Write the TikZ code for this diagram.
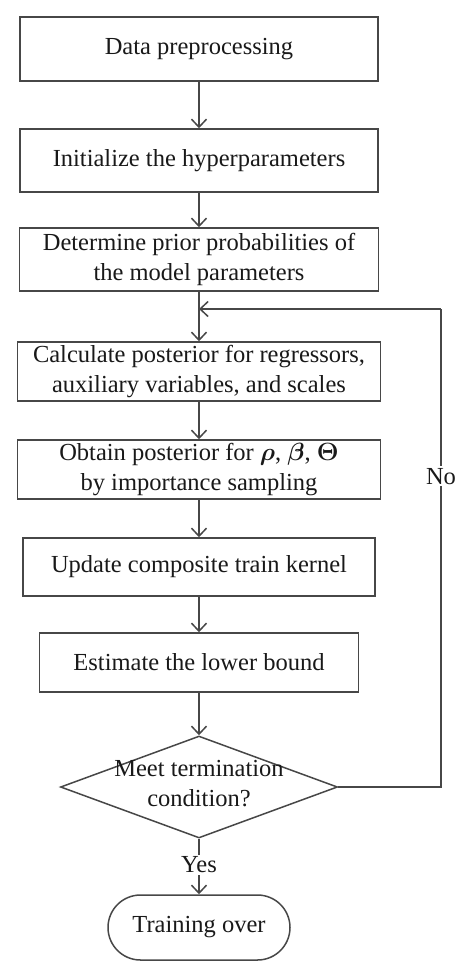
\documentclass[tikz,border=0pt]{standalone}
\usepackage{fontspec}
\setmainfont{Liberation Serif}
\usepackage{bm}
\usetikzlibrary{shapes.geometric,shapes.misc,arrows.meta}
\begin{document}
\begin{tikzpicture}[x=1pt,y=-1pt,
  every node/.style={font=\fontsize{24.5}{30}\selectfont, text=black!90, align=center},
  box/.style={draw=black!72, line width=1.5pt, rectangle, inner sep=0pt},
  dec/.style={draw=black!72, line width=1.5pt, diamond, inner sep=0pt},
  term/.style={draw=black!72, line width=1.5pt, rounded rectangle, inner sep=0pt},
  conn/.style={draw=black!72, line width=1.5pt, -{Straight Barb[length=8pt,width=15pt,line width=1.5pt]}},
  plain/.style={draw=black!72, line width=1.5pt},
  lbl/.style={fill=white, inner sep=2pt}
]
\useasboundingbox (0,0) rectangle (474,978);
\node[box, minimum width=358pt, minimum height=64pt] (b1) at (199,49) {Data preprocessing};
\node[box, minimum width=358pt, minimum height=63pt] (b2) at (199,160.5) {Initialize the hyperparameters};
\node[box, minimum width=359pt, minimum height=63pt] (b3) at (199,259.5) {Determine prior probabilities of\\the model parameters};
\node[box, minimum width=363pt, minimum height=59pt] (b4) at (199,371.5) {Calculate posterior for regressors,\\auxiliary variables, and scales};
\node[box, minimum width=363pt, minimum height=59pt] (b5) at (199,469.5) {Obtain posterior for $\bm{\rho}$, $\bm{\beta}$, $\bm{\Theta}$\\by importance sampling};
\node[box, minimum width=352pt, minimum height=58pt] (b6) at (199,567) {Update composite train kernel};
\node[box, minimum width=319pt, minimum height=59pt] (b7) at (199,662.5) {Estimate the lower bound};
\node[dec, minimum width=277pt, minimum height=102pt] (d) at (199,787) {};
\node (dt) at (199,784) {Meet termination\\condition?};
\node[term, minimum width=182pt, minimum height=65pt] (t) at (199,927.5) {Training over};
\coordinate (j) at (199,309);
\coordinate (rb) at (441,787);
\coordinate (rt) at (441,309);
\draw[conn] (b1) -- (b2);
\draw[conn] (b2) -- (b3);
\draw[conn] (b3) -- (b4);
\draw[conn] (b4) -- (b5);
\draw[conn] (b5) -- (b6);
\draw[conn] (b6) -- (b7);
\draw[conn] (b7) -- (d.north);
\draw[conn] (d.south) -- node[lbl, pos=0.47] (yes) {Yes} (t.north);
\draw[plain] (d.east) -- (rb) -- node[lbl, pos=0.65] (no) {No} (rt);
\draw[conn] (rt) -- (j);
\end{tikzpicture}
\end{document}
